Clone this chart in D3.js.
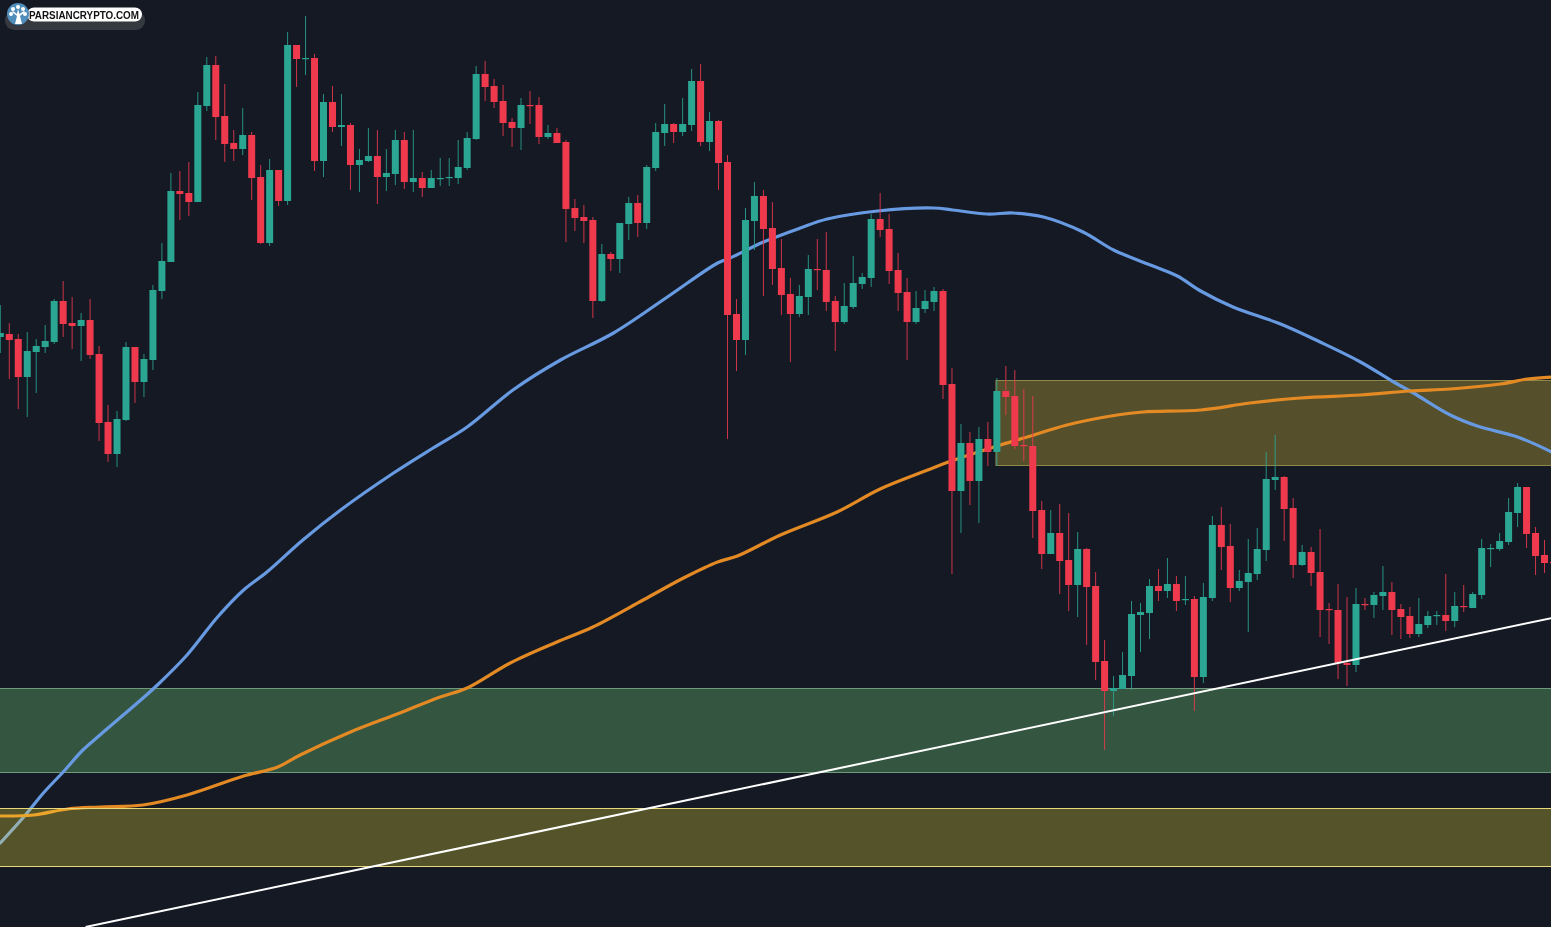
<!DOCTYPE html>
<html><head><meta charset="utf-8">
<style>html,body{margin:0;padding:0;background:#141924;overflow:hidden}svg{display:block;filter:blur(0.35px)}</style>
<script src="https://cdn.jsdelivr.net/npm/d3@7/dist/d3.min.js"></script>
</head><body><svg id="c" width="1551" height="927"></svg>
<script>
const opens=[590,593,588,550,575,580,585,626,604,601,607,573,505,473,507,580,545,567,636,665,736,734,725,821,862,811,784,778,792,750,684,757,726,882,868,869,766,825,800,802,762,766,771,750,753,
787,745,749,739,748,749,749,759,788,853,841,826,805,799,822,822,790,794,785,719,710,707,626,673,668,703,724,704,759,794,803,795,802,846,785,806,765,613,587,706,731,699,659,633,613,
630,658,657,626,605,620,643,649,708,698,657,635,605,618,625,636,543,436,484,446,488,475,536,531,482,
481,417,373,394,367,342,378,341,266,236,238,251,312,314,341,336,343,327,328,250,329,402,381,339,345,353,377,447,450,419,
362,375,355,318,317,264,262,323,322,331,335,318,311,293,302,311,312,306,321,319,332,378,378,385,414,440,394,372,365];
const closes=[594,587,550,576,581,586,626,603,601,607,572,504,473,508,580,545,568,637,666,736,733,725,822,862,810,783,778,792,749,684,757,726,882,868,869,766,825,800,802,762,767,771,750,754,787,
745,749,739,749,749,750,760,789,853,840,825,804,799,822,821,790,794,784,718,709,706,626,673,668,704,724,704,760,795,803,795,803,846,785,806,764,612,587,707,731,698,658,632,613,631,
658,657,625,605,621,644,650,708,697,656,634,605,619,626,636,542,436,484,446,488,475,536,530,481,481,
416,373,394,366,342,378,340,265,236,239,252,313,315,341,336,343,326,328,250,330,402,380,339,346,354,378,448,450,418,362,
375,354,317,317,264,262,323,322,332,335,317,310,293,303,311,312,306,321,320,333,379,379,386,415,440,393,371,364,364];
const highs=[622,604,593,595,588,602,628,646,630,614,628,581,522,516,585,580,573,642,684,754,756,765,835,870,871,843,797,819,795,762,768,757,895,882,911,873,833,841,833,804,778,799,797,778,797,
795,797,755,757,769,769,787,795,861,866,848,842,809,829,836,830,802,799,787,728,722,710,683,675,704,730,732,762,804,823,804,829,858,863,815,807,772,628,719,745,737,725,688,649,642,
672,688,695,631,644,671,654,713,734,713,674,649,636,637,640,638,559,503,495,500,505,549,561,557,538,
531,426,417,423,414,395,379,355,287,251,275,326,324,348,358,369,351,351,331,344,411,420,403,357,388,399,475,492,451,429,
382,380,398,324,343,330,339,329,335,361,345,323,320,329,316,316,353,335,342,335,388,383,394,429,444,440,400,387,365];
const lows=[574,548,518,510,534,574,583,590,578,566,568,486,465,460,506,524,530,557,628,665,707,711,725,816,787,765,766,772,727,683,681,721,722,840,852,756,750,795,781,737,735,765,723,736,742,
738,735,730,739,741,741,743,757,787,826,819,791,780,777,803,783,788,784,685,696,684,609,625,656,654,687,690,698,756,781,784,791,796,781,776,737,488,556,572,677,631,642,612,565,610,
612,637,616,576,603,618,638,640,690,643,616,567,603,614,616,528,353,394,422,404,461,461,512,478,466,
389,358,373,333,316,310,282,247,177,211,238,237,275,288,326,329,316,322,216,244,326,357,325,336,295,347,366,437,386,349,
361,341,290,283,248,241,255,317,309,317,292,288,289,290,299,302,296,300,315,319,328,360,376,382,400,379,352,354,364];

const blueBars=[0,2.8,4.8,7.0,9.2,11.1,15.9,17.5,20.8,24.2,27.1,29.7,33.7,37.9,43.8,48.2,52.0,57.1,62.4,68.3,74.3,79.9,81.3,85.0,89.1,92.1,97.7,103.9,106.1,109.9,112.8,116.2,120.6,124.0,128.1,131.1,133.7,137.3,142.6,147.0,151.5,155.2,157.4,161.5,164.5,169.0,172.8];
const blueVals=[84,112,134,155,177,192,229,242,272,310,337,355,387,417,454,479,500,537,567,594,630,664,669,685,699,708,716,719,717,713,714,710,695,677,662,651,636,620,603,585,565,545,534,512,501,490,475];
const orangeBars=[0,3.7,7.5,11.1,15.9,20.8,27.1,30.9,33.4,39.0,44.5,49.0,52.0,56.8,62.0,66.0,71.6,76.1,79.9,82.1,86.9,93.2,98.0,103.3,105.6,111.4,114.4,118.8,124.4,127.3,133.7,139.2,144.8,151.5,157.0,161.5,167.1,170.1,172.8];
const orangeVals=[111,112,118,120,122,132,151,160,172,195,214,230,239,264,285,300,327,349,365,371,392,415,438,457,465,482,490,502,512,515,517,524,529,532,536,538,543,548,550];
const trendBars=[9.5,172.8];
const trendVals=[0,309];
const greenZone=[155,239];
const lowerYellowZone=[61,119];
const upperYellowZone=[462,547];
const upperZoneStartBar=110.9;
const logoText="PARSIANCRYPTO.COM";

const W=1551,H=927;
const x=d3.scaleLinear().domain([0,173]).range([0.3,1553.5]);
const y=d3.scaleLinear().domain([0,927]).range([927,0]);
const svg=d3.select("#c");
svg.append("rect").attr("x",-3).attr("y",-3).attr("width",W+6).attr("height",H+6).attr("fill","#141924");

function zone(band,startX,fill,stroke){
  svg.append("rect").attr("x",startX).attr("y",y(band[1])+.5).attr("width",W-startX+3).attr("height",y(band[0])-y(band[1]))
    .attr("fill",fill).attr("stroke",stroke).attr("stroke-width",1);
}
zone(greenZone,-3,"#34553f","#6f9a7c");
zone(upperYellowZone,x(upperZoneStartBar),"#55502b","#8d8748");

const line=d3.line().x(d=>x(d[0])).y(d=>y(d[1])).curve(d3.curveCatmullRom.alpha(0.5));
function maLine(bars,vals,color,w){
  svg.append("path").datum(bars.map((b,i)=>[b,vals[i]])).attr("d",line).attr("fill","none")
    .attr("stroke",color).attr("stroke-width",w).attr("stroke-linecap","round");
}
maLine(blueBars,blueVals,"#689ae2",3.2);
maLine(orangeBars,orangeVals,"#e38a24",3.2);

const idx=d3.range(opens.length);
const col=i=>closes[i]>=opens[i]?"#2aa693":"#ef3a4d";
svg.append("g").selectAll("rect").data(idx).join("rect")
  .attr("x",i=>x(i)-.5).attr("width",1)
  .attr("y",i=>y(highs[i])).attr("height",i=>y(lows[i])-y(highs[i]))
  .attr("fill",col).attr("opacity",.85);
svg.append("g").selectAll("rect").data(idx).join("rect")
  .attr("x",i=>x(i)-3.5).attr("width",7)
  .attr("y",i=>y(Math.max(opens[i],closes[i])))
  .attr("height",i=>Math.max(1.2,Math.abs(y(opens[i])-y(closes[i]))))
  .attr("fill",col);

// lower yellow zone sits over the moving averages
svg.append("rect").attr("x",-3).attr("y",y(lowerYellowZone[1])+.5).attr("width",W+6)
  .attr("height",y(lowerYellowZone[0])-y(lowerYellowZone[1]))
  .attr("fill","#ffeb3b").attr("fill-opacity",.28).attr("stroke","#e8d87c").attr("stroke-width",1);

svg.append("path").datum(trendBars.map((b,i)=>[b,trendVals[i]]))
  .attr("d",d3.line().x(d=>x(d[0])).y(d=>y(d[1]))).attr("fill","none").attr("stroke","#fff").attr("stroke-width",2);

// watermark
const logo=svg.append("g");
logo.append("rect").attr("x",5).attr("y",11).attr("width",140).attr("height",19).attr("rx",9).attr("fill","#36393f");
logo.append("rect").attr("x",27).attr("y",7.5).attr("width",115).attr("height",14).attr("rx",7).attr("fill","#fff");
logo.append("circle").attr("cx",18).attr("cy",14).attr("r",11).attr("fill","#4f8dbb");
logo.append("path").attr("d","M15 24 L17 16 L12 12 L13 11 L17 14 L18 9 L19.5 14 L24 11 L25 12 L20 16 L22 24 Z").attr("fill","#fff");
[[13,9],[18,7],[23,9],[11,14],[25,14]].forEach(p=>logo.append("circle").attr("cx",p[0]).attr("cy",p[1]).attr("r",2).attr("fill","#fff"));
logo.append("text").attr("x",29).attr("y",19).attr("font-family","Liberation Sans, Arial, sans-serif")
  .attr("font-weight","700").attr("font-size",11).attr("textLength",110).attr("lengthAdjust","spacingAndGlyphs")
  .attr("fill","#111").text(logoText);
</script></body></html>
